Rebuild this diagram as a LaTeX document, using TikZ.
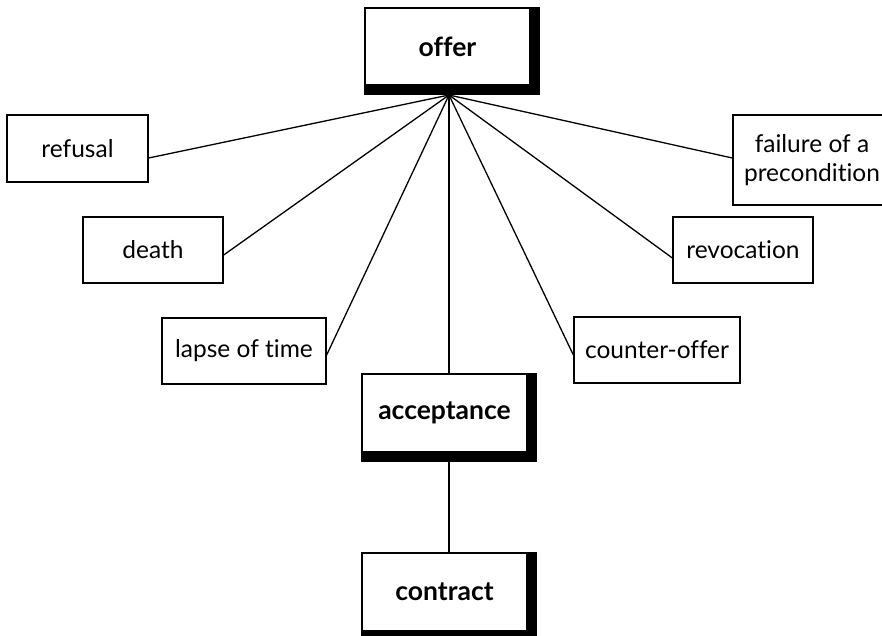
\documentclass[tikz,border=0pt]{standalone}
\usepackage{fontspec}
\setmainfont{Lato}[Ligatures={NoCommon}]
\begin{document}
\begin{tikzpicture}[x=1pt,y=-1pt,
  box/.style={draw=black, line width=1.3pt, fill=white, inner sep=0pt, align=center,
    font=\fontsize{24.5}{29}\selectfont},
  keybox/.style={box, font=\fontsize{26.5}{30}\selectfont\bfseries},
  link/.style={line width=1.3pt}]
\useasboundingbox (0,0) rectangle (882,635);
% main chain
\node[keybox, minimum width=165pt, minimum height=77pt] (offer) at (447.5,46.5) {offer};
\node[keybox, minimum width=165pt, minimum height=78pt] (acceptance) at (444.5,413) {acceptance};
\node[keybox, minimum width=165pt, minimum height=78pt] (contract) at (444.5,592) {contract};
% terminations
\node[box, minimum width=141pt, minimum height=67pt] (refusal) at (77.5,148.5) {refusal};
\node[box, minimum width=140pt, minimum height=66pt] (death) at (153,250) {death};
\node[box, minimum width=164pt, minimum height=66pt] (lapse) at (244,351) {lapse of time};
\node[box, minimum width=166pt, minimum height=66pt] (counter) at (657,350) {counter-offer};
\node[box, minimum width=140pt, minimum height=66pt] (revocation) at (743,250) {revocation};
\node[box, minimum width=158pt, minimum height=90pt] (failure) at (812,160) {failure of a\\precondition};
\coordinate (hub) at (449,95);
% connectors
\draw[link] (hub) -- ([yshift=-9.5pt]refusal.east);
\draw[link] (hub) -- ([yshift=-5pt]death.east);
\draw[link] (hub) -- ([yshift=-4pt]lapse.east);
\draw[link] (hub) -- (hub |- acceptance.north);
\draw[link] (hub) -- ([yshift=-5pt]counter.west);
\draw[link] (hub) -- ([yshift=-8pt]revocation.west);
\draw[link] (hub) -- ([yshift=2pt]failure.west);
\draw[link] ([xshift=4.5pt]acceptance.south) -- ([xshift=4.5pt]contract.north);
% heavy shadows on right and bottom edges
\foreach \n in {offer,acceptance,contract}{
  \fill[black] (\n.north east) rectangle ([xshift=9pt,yshift=-9pt]\n.south east);
  \fill[black] (\n.south west) rectangle ([xshift=9pt,yshift=-9pt]\n.south east);
}
\end{tikzpicture}
\end{document}
